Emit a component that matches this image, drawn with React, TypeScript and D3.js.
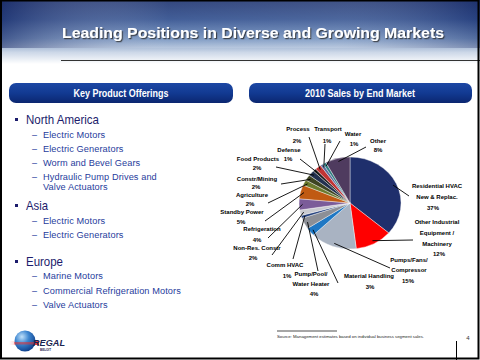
import React from 'react';
import * as d3 from 'd3';

// ---------- data ----------
const categories = [
  'Residential HVAC New & Replac.', 'Other Industrial Equipment / Machinery', 'Pumps/Fans/Compressor',
  'Material Handling', 'Pump/Pool/Water Heater', 'Comm HVAC', 'Non-Res. Constr', 'Refrigeration',
  'Standby Power', 'Agriculture', 'Constr/Mining', 'Food Products', 'Defense', 'Process',
  'Transport', 'Water', 'Other',
];
const labelLines = [
  ['Residential HVAC', 'New & Replac.'], ['Other Industrial', 'Equipment /', 'Machinery'],
  ['Pumps/Fans/', 'Compressor'], ['Material Handling'], ['Pump/Pool/', 'Water Heater'],
  ['Comm HVAC'], ['Non-Res. Constr'], ['Refrigeration'], ['Standby Power'], ['Agriculture'],
  ['Constr/Mining'], ['Food Products'], ['Defense'], ['Process'], ['Transport'], ['Water'], ['Other'],
];
const shares = [37, 12, 15, 3, 4, 1, 2, 4, 5, 2, 2, 2, 1, 2, 1, 1, 8];
const sliceColors = [
  '#1f2f6c', '#ff0000', '#a9b3c2', '#1f78c4', '#8c8f96', '#23407c', '#c9cbd0', '#7b5c99',
  '#c05a12', '#6b7a2e', '#3d4422', '#22304f', '#1a1a1a', '#c23434', '#5f6c9c', '#2f7f82', '#4f3b5f',
];

const naItems = ['Electric Motors', 'Electric Generators', 'Worm and Bevel Gears'];
const asiaItems = ['Electric Motors', 'Electric Generators'];
const europeItems = ['Marine Motors', 'Commercial Refrigeration Motors', 'Valve Actuators'];

// ---------- layout (label placement) ----------
const labelLayout = [
  { x: 437, y: 188, lh: 11, px: 433, py: 210, ax: 409, ay: 196 },
  { x: 437, y: 224, lh: 11, px: 439, py: 256, ax: 413, ay: 240 },
  { x: 409, y: 262, lh: 10, px: 408, py: 283, ax: 390, ay: 268 },
  { x: 369, y: 278, lh: 10, px: 370, py: 289, ax: 338, ay: 283 },
  { x: 311, y: 276, lh: 9.5, px: 314, py: 296, ax: 318, ay: 271 },
  { x: 285, y: 267, lh: 10, px: 287, py: 278, ax: 293, ay: 259 },
  { x: 257, y: 250, lh: 10, px: 253, py: 260, ax: 272, ay: 255 },
  { x: 262, y: 231, lh: 10, px: 257, py: 242, ax: 268, ay: 238 },
  { x: 242, y: 214, lh: 10, px: 241, py: 224, ax: 265, ay: 221 },
  { x: 252, y: 197, lh: 10, px: 250, py: 206, ax: 268, ay: 203 },
  { x: 257, y: 181, lh: 10, px: 256, py: 189, ax: 281, ay: 184 },
  { x: 258, y: 161, lh: 10, px: 257, py: 170, ax: 276, ay: 167 },
  { x: 289, y: 152, lh: 10, px: 288, py: 161, ax: 300, ay: 159 },
  { x: 298, y: 131, lh: 10, px: 297, py: 143, ax: 309, ay: 137 },
  { x: 328, y: 131, lh: 10, px: 327, py: 143, ax: 325, ay: 144 },
  { x: 353, y: 136, lh: 10, px: 354, py: 146, ax: 340, ay: 141 },
  { x: 378, y: 143, lh: 10, px: 378, py: 152, ax: 366, ay: 147 },
];

const FONT = '"Liberation Sans", Arial, sans-serif';

export default function App() {
  const cx = 350, cy = 203, r = 46, sx = 51 / 46;
  const pie = d3.pie<number>().sort(null).value(d => d)(shares);
  const arc = d3.arc<d3.PieArcDatum<number>>().innerRadius(0).outerRadius(r);

  const edge = (a: d3.PieArcDatum<number>) => {
    const m = (a.startAngle + a.endAngle) / 2;
    return [cx + Math.sin(m) * r * sx * 0.93, cy - Math.cos(m) * r * 0.93];
  };

  const bullet = (x: number, y: number, text: string, w: number) => (
    <g key={text + y}>
      <rect x={15} y={y - 6} width={3} height={3} fill="#1c1c6c" />
      <text x={x} y={y} fontFamily={FONT} fontSize={13} fill="#1c1c6c" textLength={w} lengthAdjust="spacingAndGlyphs">{text}</text>
    </g>
  );
  const sub = (y: number, text: string) => (
    <g key={text + y}>
      <text x={32} y={y} fontFamily={FONT} fontSize={9} fill="#1f3c9c">–</text>
      <text x={43} y={y} fontFamily={FONT} fontSize={9.2} fill="#1f3c9c" letterSpacing={0.1}>{text}</text>
    </g>
  );

  return (
    <svg width={480} height={360} style={{ position: 'fixed', left: 0, top: 0, background: '#fff' }}>
      <defs>
        <linearGradient id="hdr" x1="0" y1="0" x2="0" y2="1">
          <stop offset="0" stopColor="#1d326f" />
          <stop offset="0.3" stopColor="#2d4c8c" />
          <stop offset="0.6" stopColor="#6f8ebc" />
          <stop offset="0.82" stopColor="#cdd8e8" />
          <stop offset="1" stopColor="#ffffff" />
        </linearGradient>
        <linearGradient id="hdrH" x1="0" y1="0" x2="1" y2="0">
          <stop offset="0" stopColor="#1a2a66" stopOpacity="0.55" />
          <stop offset="0.35" stopColor="#ffffff" stopOpacity="0.1" />
          <stop offset="0.7" stopColor="#ffffff" stopOpacity="0.15" />
          <stop offset="1" stopColor="#1a2a66" stopOpacity="0.35" />
        </linearGradient>
        <linearGradient id="pill" x1="0" y1="0" x2="0" y2="1">
          <stop offset="0" stopColor="#1d47a4" />
          <stop offset="0.5" stopColor="#123a92" />
          <stop offset="1" stopColor="#0b2670" />
        </linearGradient>
        <radialGradient id="ball" cx="0.35" cy="0.3" r="0.75">
          <stop offset="0" stopColor="#bfe0fa" />
          <stop offset="0.45" stopColor="#3d86d0" />
          <stop offset="1" stopColor="#0c3c88" />
        </radialGradient>
        <linearGradient id="streak" x1="0" y1="0" x2="1" y2="0">
          <stop offset="0" stopColor="#ff4040" stopOpacity="0" />
          <stop offset="1" stopColor="#e01010" stopOpacity="0.9" />
        </linearGradient>
        <filter id="shadow" x="-5%" y="-20%" width="110%" height="140%">
          <feDropShadow dx="1.2" dy="1.2" stdDeviation="0.6" floodColor="#2a2a2a" floodOpacity="0.8" />
        </filter>
      </defs>

      {/* header */}
      <rect x={0} y={0} width={480} height={64} fill="url(#hdr)" />
      <rect x={0} y={0} width={480} height={48} fill="url(#hdrH)" />
      <text x={62} y={38} fontFamily={FONT} fontWeight="bold" fontSize={15.5} fill="#fff"
        textLength={382} lengthAdjust="spacingAndGlyphs" filter="url(#shadow)">
        Leading Positions in Diverse and Growing Markets
      </text>
      <line x1={61} x2={480} y1={60.5} y2={60.5} stroke="#333" strokeWidth={1.2} />

      {/* panel headers */}
      <rect x={9} y={83} width={224} height={20} rx={7} fill="url(#pill)" />
      <text x={121} y={97} textAnchor="middle" fontFamily={FONT} fontWeight="bold" fontSize={10.5} fill="#fff"
        textLength={95} lengthAdjust="spacingAndGlyphs">Key Product Offerings</text>
      <rect x={249} y={83} width={223} height={20} rx={7} fill="url(#pill)" />
      <text x={360} y={97} textAnchor="middle" fontFamily={FONT} fontWeight="bold" fontSize={10.5} fill="#fff"
        textLength={110} lengthAdjust="spacingAndGlyphs">2010 Sales by End Market</text>

      {/* left list */}
      {bullet(26, 124, 'North America', 73)}
      {naItems.map((t, i) => sub(138 + i * 14, t))}
      {sub(180, 'Hydraulic Pump Drives and')}
      <text x={43} y={190} fontFamily={FONT} fontSize={9.2} fill="#1f3c9c" letterSpacing={0.1}>Valve Actuators</text>
      {bullet(26, 210, 'Asia', 22)}
      {asiaItems.map((t, i) => sub(224 + i * 14, t))}
      {bullet(26, 266, 'Europe', 37)}
      {europeItems.map((t, i) => sub(279 + i * 14.5, t))}

      {/* pie */}
      <g transform={`translate(${cx},${cy}) scale(${sx},1)`}>
        {pie.map((a, i) => (
          <path key={categories[i]} d={arc(a) || ''} fill={sliceColors[i]} stroke="#fff" strokeWidth={0.4}
            vectorEffect="non-scaling-stroke" />
        ))}
      </g>
      {pie.map((a, i) => {
        const L = labelLayout[i];
        const [ex, ey] = edge(a);
        return (
          <g key={'lbl' + i} fontFamily={FONT} fontSize={6} fontWeight="bold" fill="#000">
            <line x1={L.ax} y1={L.ay} x2={ex} y2={ey} stroke="#000" strokeWidth={0.9} />
            {labelLines[i].map((t, j) => (
              <text key={j} x={L.x} y={L.y + j * L.lh} textAnchor="middle">{t}</text>
            ))}
            <text x={L.px} y={L.py} textAnchor="middle">{`${shares[i]}%`}</text>
          </g>
        );
      })}

      {/* footnote */}
      <line x1={277} x2={337} y1={331} y2={331} stroke="#000" strokeWidth={0.7} />
      <text x={277} y={338} fontFamily={FONT} fontSize={4.2} fill="#222" textLength={147} lengthAdjust="spacingAndGlyphs">
        Source: Management estimates based on individual business segment sales.
      </text>
      <line x1={456.5} x2={456.5} y1={341} y2={360} stroke="#000" strokeWidth={1} />
      <text x={468} y={340} fontFamily={FONT} fontSize={6} fill="#333" textAnchor="middle">4</text>

      {/* logo */}
      <rect x={9} y={341} width={30} height={4} fill="url(#streak)" />
      <circle cx={25} cy={341} r={10.5} fill="url(#ball)" />
      <rect x={14} y={342} width={22} height={2.5} fill="#e83030" opacity={0.55} />
      <text x={33} y={346} fontFamily={FONT} fontWeight="bold" fontStyle="italic" fontSize={8.5} fill="#1a2450"
        textLength={32} lengthAdjust="spacingAndGlyphs">REGAL</text>
      <text x={40} y={351} fontFamily={FONT} fontWeight="bold" fontSize={3} fill="#1a2450">BELOIT</text>

      {/* frame */}
      <rect x={1} y={0.5} width={477.5} height={358} fill="none" stroke="#000" strokeWidth={2} />
    </svg>
  );
}
